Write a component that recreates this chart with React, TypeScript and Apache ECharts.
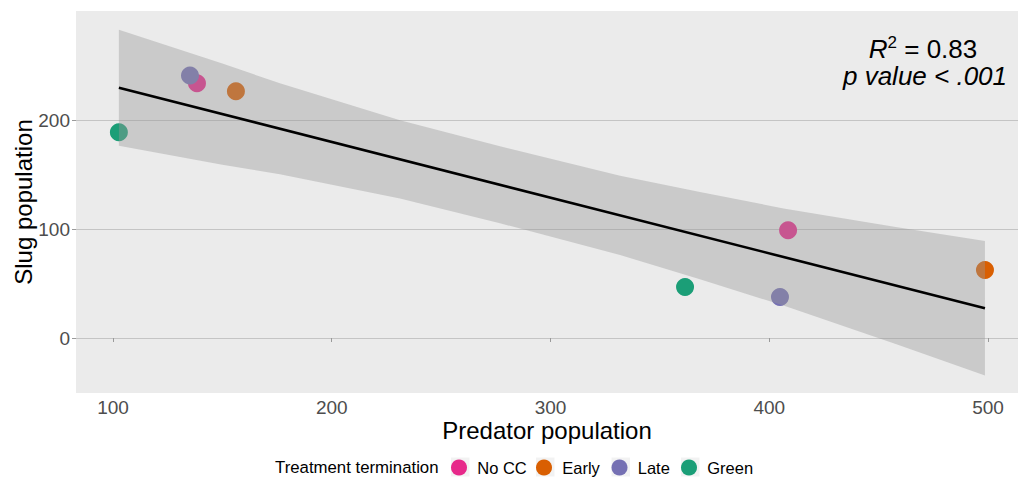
import { useEffect, useRef } from "react";
import * as echarts from "echarts";

// Treatment groups and their colours
const groups = ["No CC", "Early", "Late", "Green"];
const groupColors = ["#E7298A", "#D95F02", "#7570B3", "#1B9E77"];

// Observations: [predator population, slug population]
const noCcPoints = [[138.4, 234], [408.6, 99]];
const earlyPoints = [[156.2, 226.6], [498.6, 62.4]];
const latePoints = [[135.2, 241], [404.9, 37.6]];
const greenPoints = [[102.7, 189], [361.5, 46.8]];
const groupPoints = [noCcPoints, earlyPoints, latePoints, greenPoints];

// Linear fit and its confidence band
const fitX = [102.7, 498.6];
const fitY = [229.8, 27.3];
const bandX = [102.7, 150, 176.3, 231.2, 276.9, 331.8, 368.3, 406.5, 457.8, 498.6];
const bandUpper = [283, 252, 234, 200, 176, 149, 134, 119, 102, 89];
const bandLower = [176.6, 159.2, 150.4, 128.2, 105.4, 76.2, 54, 29.8, -5.6, -34.4];

// Axis ticks
const xTicks = [100, 200, 300, 400, 500];
const yTicks = [0, 100, 200];

// Legend key positions along the bottom row
const legendKeyX = [451, 536, 611.5, 681];

const FONT = "'Liberation Sans', Arial, sans-serif";

export default function App() {
  const ref = useRef<HTMLDivElement>(null);

  useEffect(() => {
    if (!ref.current) return;
    const chart = echarts.init(ref.current, undefined, { renderer: "svg" });

    const scatterSeries = groups.map((g, i) => ({
      name: g,
      type: "scatter",
      data: groupPoints[i],
      symbol: "circle",
      symbolSize: 18,
      itemStyle: { color: groupColors[i], opacity: 1 },
      z: 2,
      silent: true,
    }));

    const legends = groups.map((g, i) => ({
      data: [g],
      left: legendKeyX[i],
      top: 459,
      padding: 0,
      orient: "horizontal",
      icon: "circle",
      itemWidth: 18.5,
      itemHeight: 16,
      selectedMode: false,
      textStyle: {
        fontFamily: FONT,
        fontSize: 16.5,
        color: "#000",
        padding: [0, 0, 0, 4],
        lineHeight: 16,
      },
    }));

    chart.setOption({
      animation: false,
      backgroundColor: "#ffffff",
      textStyle: { fontFamily: FONT },
      grid: {
        left: 76,
        right: 0,
        top: 11,
        bottom: 85,
        containLabel: false,
        outerBoundsMode: "none",
        show: true,
        backgroundColor: "#EBEBEB",
        borderWidth: 0,
      },
      legend: legends,
      xAxis: {
        type: "value",
        min: 83.1,
        max: 513.7,
        name: "Predator population",
        nameLocation: "middle",
        nameGap: 25,
        nameMoveOverlap: false,
        nameTextStyle: { fontFamily: FONT, fontSize: 24, color: "#000" },
        axisLine: { show: false },
        axisTick: { show: true, length: 4, lineStyle: { color: "#9a9a9a" }, customValues: xTicks },
        axisLabel: { fontFamily: FONT, fontSize: 19, color: "#4D4D4D", margin: 5, customValues: xTicks },
        splitLine: { show: false },
      },
      yAxis: {
        type: "value",
        min: -50.5,
        max: 300.3,
        name: "Slug population",
        nameLocation: "middle",
        nameGap: 41,
        nameMoveOverlap: false,
        nameTextStyle: { fontFamily: FONT, fontSize: 24, color: "#000" },
        axisLine: { show: false },
        axisTick: { show: true, length: 4, lineStyle: { color: "#9a9a9a" }, customValues: yTicks },
        axisLabel: { fontFamily: FONT, fontSize: 19, color: "#4D4D4D", margin: 6, customValues: yTicks },
        splitLine: { show: true, lineStyle: { color: "#C4C4C4", width: 1 } },
      },
      graphic: [
        { type: "text", x: 275, y: 467, style: { text: "Treatment termination", font: `16.8px ${FONT}`, fill: "#000", verticalAlign: "middle", align: "left" } },
        ...legendKeyX.map((x) => ({ type: "rect", x, y: 457.5, z: -1, shape: { width: 18.5, height: 19 }, style: { fill: "#F2F2F2" } })),
        {
          type: "text",
          x: 923,
          y: 49,
          z: 10,
          style: {
            text: "{r|R}{s|2}{n| = 0.83}",
            align: "center",
            verticalAlign: "middle",
            rich: {
              r: { fontFamily: FONT, fontSize: 26, fontStyle: "italic", fill: "#000", lineHeight: 30 },
              s: { fontFamily: FONT, fontSize: 17, fill: "#000", verticalAlign: "top", lineHeight: 17 },
              n: { fontFamily: FONT, fontSize: 26, fill: "#000", lineHeight: 30 },
            },
          },
        },
        {
          type: "text",
          x: 925,
          y: 76,
          z: 10,
          style: { text: "p value < .001", font: `italic 26px ${FONT}`, fill: "#000", align: "center", verticalAlign: "middle" },
        },
      ],
      series: [
        ...scatterSeries,
        {
          type: "custom",
          name: "band",
          z: 3,
          silent: true,
          data: [[bandX[0], bandUpper[0]]],
          renderItem: (_params: any, api: any) => {
            const pts: number[][] = [];
            bandX.forEach((x, i) => pts.push(api.coord([x, bandUpper[i]])));
            for (let i = bandX.length - 1; i >= 0; i--) pts.push(api.coord([bandX[i], bandLower[i]]));
            return { type: "polygon", shape: { points: pts }, style: { fill: "rgba(153,153,153,0.4)" } };
          },
        },
        {
          type: "line",
          name: "fit",
          z: 4,
          silent: true,
          showSymbol: false,
          data: fitX.map((x, i) => [x, fitY[i]]),
          lineStyle: { color: "#000", width: 2.6 },
        },
      ],
    });

    return () => chart.dispose();
  }, []);

  return <div ref={ref} style={{ position: "fixed", left: 0, top: 0, width: 1018, height: 478 }} />;
}
